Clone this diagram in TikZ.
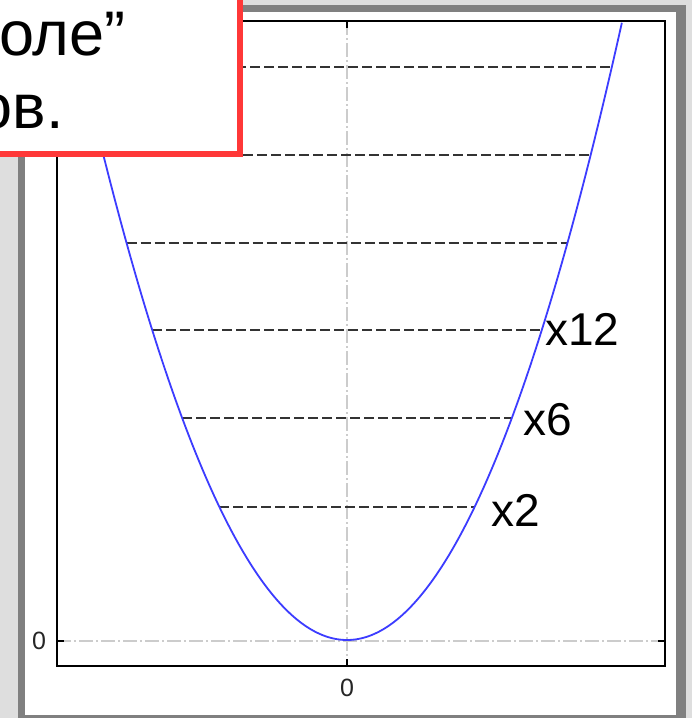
\documentclass[tikz,border=0pt]{standalone}
\usepackage{fontspec}
\setmainfont{Liberation Sans}
\begin{document}
\begin{tikzpicture}[x=1pt,y=-1pt,
  level/.style={draw=black!80, line width=1.4pt, dash pattern=on 10pt off 4pt},
  gridline/.style={draw=black!20, line width=1.2pt, dash pattern=on 14pt off 3pt on 2pt off 3pt},
  curve/.style={draw={rgb,255:red,60;green,60;blue,255}, line width=1.8pt},
  deg/.style={font=\fontsize{46}{50}\selectfont, anchor=base west, inner sep=0pt},
  ticklabel/.style={font=\fontsize{25}{27}\selectfont, text=black!85, inner sep=0pt},
  callout/.style={draw={rgb,255:red,255;green,56;blue,56}, line width=6pt, fill=white},
  calltext/.style={font=\fontsize{63}{70}\selectfont, inner sep=0pt}]
\useasboundingbox (0,0) rectangle (692,718);
\clip (0,0) rectangle (692,718);
% background and frame
\fill[black!13] (0,0) rectangle (692,718);
\fill[black!50] (18,5) rectangle (686,730);
\fill[white] (25,12) rectangle (676,715);
% grid
\draw[gridline] (347,21) -- (347,666);
\draw[gridline] (57,641) -- (665,641);
% plot frame
\draw[black, line width=1.5pt] (57,21) rectangle (665,666);
% ticks
\draw[black, line width=1.5pt] (57,641) -- (64,641) (665,641) -- (658,641) (347,666) -- (347,659) (347,21) -- (347,28);
\node[ticklabel] (ylab) at (39,641) {0};
\node[ticklabel] (xlab) at (347,688) {0};
% energy levels
\foreach \yy in {507,418,330,243,155,67} {
  \pgfmathsetmacro{\hw}{sqrt(640-\yy)*11.0634}
  \draw[level] ({347-\hw},\yy) -- ({347+\hw},\yy);
}
% parabola
\draw[curve] plot[domain=-2.75:2.75, samples=121, smooth] ({347+100*\x},{640-81.7*\x*\x});
% degeneracy labels
\node[deg] (d12) at (545,345) {x12};
\node[deg] (d6) at (523,435) {x6};
\node[deg] (d2) at (491,526) {x2};
% callout box
\draw[callout] (-20,-20) rectangle (240,154);
\node[calltext, anchor=base west] (t1) at (-1,55) {оле”};
\node[calltext, anchor=base east] (t2) at (64,128) {ов.};
\end{tikzpicture}
\end{document}
